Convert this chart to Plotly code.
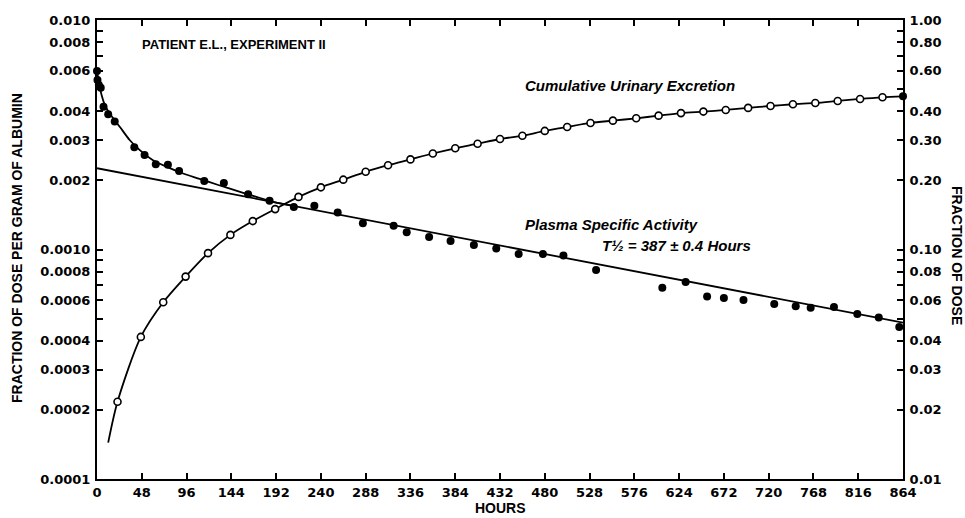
import plotly.graph_objects as go

# ---------------- data ----------------
plasma_hours = [0, 0.5, 2, 4, 7, 12, 19, 40, 51, 63, 76, 88, 115, 136, 162, 185,
                211, 233, 258, 285, 318, 332, 356, 379, 404, 428, 452, 478, 500,
                535, 606, 631, 654, 672, 693, 726, 749, 765, 790, 815, 838, 860]
plasma_values = [0.0060, 0.00548, 0.00521, 0.00507, 0.00419, 0.00388, 0.00361,
                 0.00279, 0.00258, 0.00235, 0.00234, 0.00220, 0.00199, 0.00195,
                 0.00174, 0.00163, 0.00153, 0.00155, 0.00145, 0.00130, 0.00127,
                 0.00119, 0.001135, 0.00109, 0.001047, 0.00101, 0.000957,
                 0.000957, 0.000942, 0.000815, 0.000682, 0.000721, 0.000624,
                 0.000614, 0.000603, 0.000579, 0.000566, 0.000557, 0.000562,
                 0.000523, 0.000505, 0.00046]

# early fitted curve of plasma activity
plasma_curve_hours = [0, 2, 5, 8, 12, 18, 25, 35, 45, 60, 75, 90, 110, 130, 150,
                      170, 190, 210]
plasma_curve_values = [0.0061, 0.0053, 0.0047, 0.0043, 0.0040, 0.0037, 0.0034,
                       0.0030, 0.00273, 0.00245, 0.00229, 0.00216, 0.00203,
                       0.00191, 0.00180, 0.00170, 0.00161, 0.00155]

# straight regression line (T1/2 = 387 h)
line_hours = [0, 864]
line_values = [0.00226, 0.00048]

# cumulative urinary excretion (fraction of dose, right axis)
urine_hours = [22, 47, 71, 95, 119, 143, 167, 191, 216, 240, 264, 288, 312, 336,
               360, 384, 408, 432, 456, 480, 504, 529, 553, 578, 602, 626, 650,
               674, 698, 722, 746, 770, 794, 818, 842]
urine_values = [0.0217, 0.0416, 0.0589, 0.0762, 0.0964, 0.1158, 0.133, 0.150,
                0.1695, 0.1866, 0.2015, 0.218, 0.233, 0.247, 0.262, 0.276, 0.289,
                0.303, 0.3133, 0.3286, 0.342, 0.356, 0.3643, 0.373, 0.383, 0.393,
                0.399, 0.4056, 0.414, 0.422, 0.4295, 0.435, 0.444, 0.453, 0.4605]
urine_curve_start = (12, 0.0144)
urine_end = (864, 0.465)

x_ticks = list(range(0, 865, 48))
left_tickvals = [0.010, 0.009, 0.008, 0.007, 0.006, 0.005, 0.004, 0.003, 0.002,
                 0.0010, 0.0009, 0.0008, 0.0007, 0.0006, 0.0005, 0.0004, 0.0003,
                 0.0002, 0.0001]
left_ticktext = ["0.010", "", "0.008", "", "0.006", "", "0.004", "0.003", "0.002",
                 "0.0010", "", "0.0008", "", "0.0006", "", "0.0004", "0.0003",
                 "0.0002", "0.0001"]
right_tickvals = [1.0, 0.9, 0.8, 0.7, 0.6, 0.5, 0.4, 0.3, 0.2, 0.1, 0.09, 0.08,
                  0.07, 0.06, 0.05, 0.04, 0.03, 0.02, 0.01]
right_ticktext = ["1.00", "", "0.80", "", "0.60", "", "0.40", "0.30", "0.20",
                  "0.10", "", "0.08", "", "0.06", "", "0.04", "0.03", "0.02", "0.01"]

# ---------------- figure ----------------
fig = go.Figure()

fig.add_trace(go.Scatter(x=plasma_curve_hours, y=plasma_curve_values, mode="lines",
                         line=dict(color="black", width=1.8, shape="spline", smoothing=0.8),
                         hoverinfo="skip", showlegend=False))
fig.add_trace(go.Scatter(x=line_hours, y=line_values, mode="lines",
                         line=dict(color="black", width=1.8),
                         hoverinfo="skip", showlegend=False))
fig.add_trace(go.Scatter(x=plasma_hours, y=plasma_values, mode="markers",
                         marker=dict(color="black", size=8, symbol="circle"),
                         showlegend=False, cliponaxis=False))

u_x = [urine_curve_start[0]] + urine_hours + [urine_end[0]]
u_y = [urine_curve_start[1]] + urine_values + [urine_end[1]]
fig.add_trace(go.Scatter(x=u_x, y=u_y, mode="lines", yaxis="y2",
                         line=dict(color="black", width=1.8, shape="spline", smoothing=0.8),
                         hoverinfo="skip", showlegend=False))
fig.add_trace(go.Scatter(x=urine_hours, y=urine_values, mode="markers", yaxis="y2",
                         marker=dict(color="white", size=7, symbol="circle",
                                     line=dict(color="black", width=1.6)),
                         showlegend=False))
fig.add_trace(go.Scatter(x=[urine_end[0]], y=[urine_end[1]], mode="markers", yaxis="y2",
                         marker=dict(color="black", size=8, symbol="circle"),
                         showlegend=False, cliponaxis=False))

tick_font = dict(family="DejaVu Sans", size=13, color="black", weight="bold")

fig.update_layout(
    width=965, height=518,
    margin=dict(l=97, r=62, t=20, b=39, autoexpand=False),
    paper_bgcolor="white", plot_bgcolor="white",
    showlegend=False,
    xaxis=dict(range=[0, 864], tickmode="array", tickvals=x_ticks,
               ticktext=[str(v) for v in x_ticks],
               ticks="inside", ticklen=6, tickwidth=1.5, tickcolor="black",
               showline=True, linecolor="black", linewidth=2, mirror="ticks",
               showgrid=False, zeroline=False, tickfont=tick_font),
    yaxis=dict(type="log", range=[-4, -2], tickmode="array",
               tickvals=left_tickvals, ticktext=left_ticktext,
               ticks="inside", ticklen=6, tickwidth=1.5, tickcolor="black",
               showline=True, linecolor="black", linewidth=2,
               showgrid=False, zeroline=False, tickfont=tick_font,
               ticklabelstandoff=2),
    yaxis2=dict(type="log", range=[-2, 0], overlaying="y", side="right",
                tickmode="array", tickvals=right_tickvals, ticktext=right_ticktext,
                ticks="inside", ticklen=6, tickwidth=1.5, tickcolor="black",
                showline=True, linecolor="black", linewidth=2,
                showgrid=False, zeroline=False, tickfont=tick_font,
                ticklabelstandoff=2),
)

title_font = dict(family="Liberation Sans", size=14, color="black", weight="bold")
head_font = dict(family="Liberation Sans", size=13, color="black", weight="bold")
ital_font = dict(family="Liberation Sans", size=15, color="black", weight="bold",
                 style="italic")

# positions given in window pixels (plot area spans x 97..903, y 20..479)
annotations = [
    dict(text="PATIENT E.L., EXPERIMENT II", x=140, y=45, font=head_font),
    dict(text="Cumulative Urinary Excretion", x=523, y=85, font=ital_font),
    dict(text="Plasma Specific Activity", x=523, y=224, font=ital_font),
    dict(text="T½ = 387 ± 0.4 Hours", x=600, y=246, font=ital_font),
]
for a in annotations:
    fig.add_annotation(text=a["text"], xref="paper", yref="paper",
                       x=(a["x"] - 97) / 806, y=1 - (a["y"] - 20) / 459,
                       xanchor="left", yanchor="middle", showarrow=False,
                       font=a["font"])

fig.add_annotation(text="HOURS", xref="paper", yref="paper", x=0.5, y=0,
                   yshift=-29, yanchor="middle", showarrow=False, font=title_font)
fig.add_annotation(text="FRACTION OF DOSE PER GRAM OF ALBUMIN", xref="paper",
                   yref="paper", x=0, xshift=-80, y=1 - (248 - 20) / 459,
                   textangle=-90, xanchor="center", yanchor="middle",
                   showarrow=False, font=title_font)
fig.add_annotation(text="FRACTION OF DOSE", xref="paper", yref="paper", x=1,
                   xshift=54, y=1 - (255 - 20) / 459, textangle=90,
                   xanchor="center", yanchor="middle", showarrow=False,
                   font=title_font)

# remove the default page margin so the 965x518 figure fills the window exactly
fig.write_html("out.html",
               config={"displayModeBar": False},
               post_script="document.body.style.margin='0';"
                           "document.body.style.overflow='hidden';")
